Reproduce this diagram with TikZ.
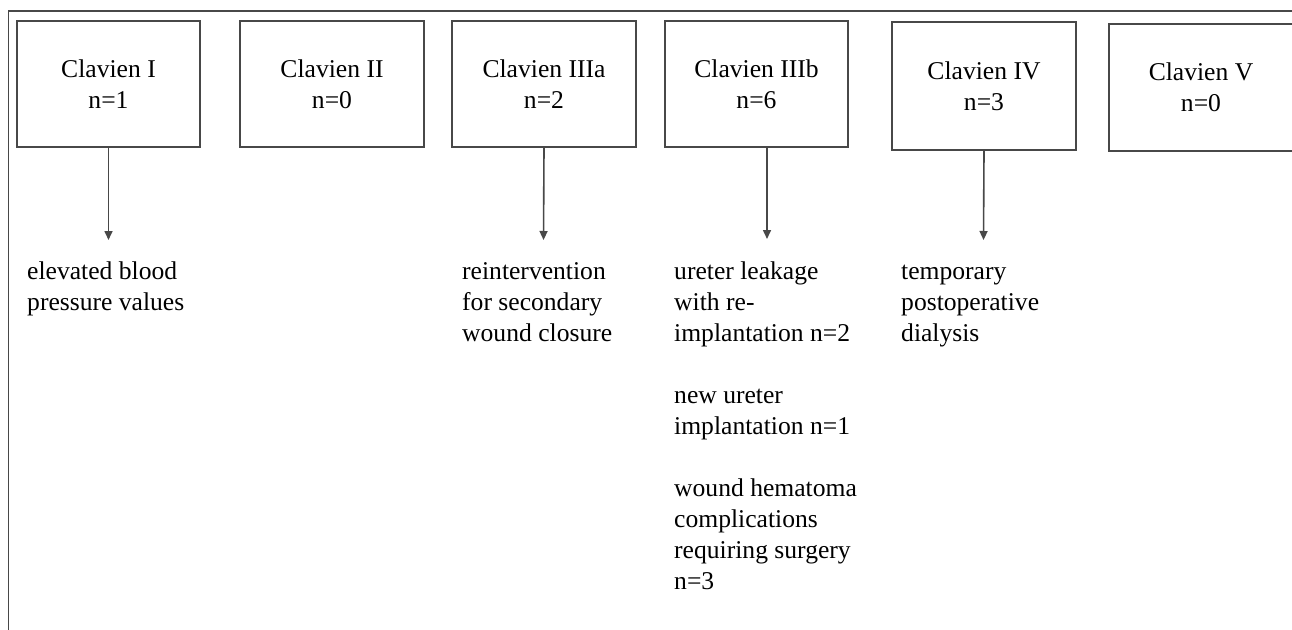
\documentclass[tikz,border=0pt]{standalone}
\usepackage{fontspec}
\setmainfont{Liberation Serif}
\usepackage{tikz}
\usetikzlibrary{
	arrows.meta,
	calc,
	positioning
}
\definecolor{FrameGray}{RGB}{72,72,72}

\tikzset{
	grade/.style={draw=FrameGray, line width=2pt, minimum width=183pt, minimum height=126pt,
		inner sep=0pt, align=center, font=\fontsize{25.6}{31}\selectfont},
	detail/.style={anchor=north west, inner sep=0pt, align=left, font=\fontsize{25.6}{31}\selectfont},
	link/.style={FrameGray, line width=1.6pt, -{Triangle[width=8pt,length=9pt]}}
}

\begin{document}
\begin{tikzpicture}[x=1pt, y=-1pt]
		\useasboundingbox (0,0) rectangle (1292,629);
		% outer frame, runs off the page on the right and at the bottom
		\draw[FrameGray, line width=1.8pt] (8.5,700) |- (1330,11);
		% grades
		\node[grade] (C1) at (108.5,84) {Clavien I\\n=1};
		\node[grade, minimum width=184pt] (C2) at (332,84) {Clavien II\\n=0};
		\node[grade, minimum width=184pt] (C3) at (544,84) {Clavien IIIa\\n=2};
		\node[grade] (C4) at (756.5,84) {Clavien IIIb\\n=6};
		\node[grade, minimum width=184pt, minimum height=128pt] (C5) at (984,86) {Clavien IV\\n=3};
		\node[grade, minimum width=184pt, minimum height=127pt] (C6) at (1201,87.5) {Clavien V\\n=0};
		% arrow ends
		\coordinate (E1) at (108.5,240);
		\coordinate (E3) at (543.5,240);
		\coordinate (E4) at (767,239);
		\coordinate (E5) at (983.5,240);
		\draw[link] (C1.south) -- (E1);
		\draw[link] (C3.south) -- (E3);
		\draw[link] (E4 |- C4.south) -- (E4);
		\draw[link] (C5.south) -- (E5);
		% complications
		\node[detail] (D1) at (27,258) {\strut elevated blood\\pressure values};
		\node[detail] (D3) at (462,258) {\strut reintervention\\for secondary\\wound closure};
		\node[detail] (D4) at (674,258) {\strut ureter leakage\\with re-\\implantation n=2\\[31pt]new ureter\\implantation n=1\\[31pt]wound hematoma\\complications\\requiring surgery\\n=3};
		\node[detail] (D5) at (901,258) {\strut temporary\\postoperative\\dialysis};
	\end{tikzpicture}
\end{document}
